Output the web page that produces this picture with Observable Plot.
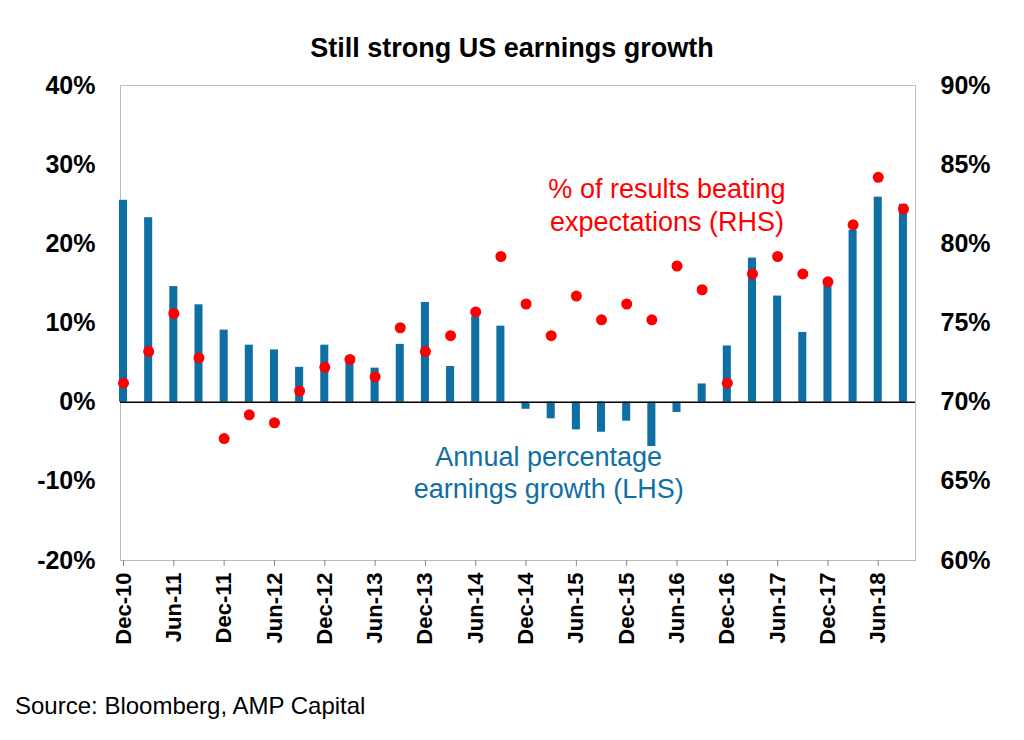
<!DOCTYPE html>
<html><head><meta charset="utf-8">
<script src="https://cdn.jsdelivr.net/npm/d3@7"></script>
<script src="https://cdn.jsdelivr.net/npm/@observablehq/plot@0.6"></script>
<style>
body{margin:0;background:#fff;font-family:"Liberation Sans",Arial,sans-serif;}
#wrap{position:relative;width:1024px;height:740px;}
#title{position:absolute;top:33px;left:0;width:1024px;text-align:center;font-weight:bold;font-size:27px;}
#src{position:absolute;top:692px;left:15px;font-size:24px;}
</style></head><body>
<div id="wrap"><div id="title">Still strong US earnings growth</div><div id="chart"></div><div id="src">Source: Bloomberg, AMP Capital</div></div>
<script>
const quarters = ["Dec-10","Mar-11","Jun-11","Sep-11","Dec-11","Mar-12","Jun-12","Sep-12","Dec-12","Mar-13","Jun-13","Sep-13","Dec-13","Mar-14","Jun-14","Sep-14","Dec-14","Mar-15","Jun-15","Sep-15","Dec-15","Mar-16","Jun-16","Sep-16","Dec-16","Mar-17","Jun-17","Sep-17","Dec-17","Mar-18","Jun-18","Sep-18"];
const growth = [25.5,23.3,14.6,12.3,9.1,7.2,6.6,4.4,7.2,5.0,4.3,7.3,12.6,4.5,10.8,9.6,-0.9,-2.1,-3.5,-3.8,-2.4,-5.6,-1.3,2.3,7.1,18.2,13.4,8.8,14.8,21.7,25.9,25.0];
const beat = [71.2,73.2,75.6,72.8,67.7,69.2,68.7,70.7,72.2,72.7,71.6,74.7,73.2,74.2,75.7,79.2,76.2,74.2,76.7,75.2,76.2,75.2,78.6,77.1,71.2,78.1,79.2,78.1,77.6,81.2,84.2,82.2];
const leftTicks = [-20,-10,0,10,20,30,40];
const rightTicks = [60,65,70,75,80,85,90];
const toLeft = v => (v - 70) * 2;
const data = quarters.map((q,i)=>({i,q,g:growth[i],b:toLeft(beat[i])}));
const xTicks = d3.range(0, quarters.length, 2);
const blue = "#0e6fa3", red = "#ff0000";
const font = "Liberation Sans, Arial, sans-serif";
const chart = Plot.plot({
  width:1024, height:740, marginTop:85, marginBottom:180, marginLeft:120, marginRight:109,
  style:{fontFamily:font, background:"transparent"},
  x:{domain:[-0.12,31.48], axis:null, label:null},
  y:{domain:[-20,40], axis:null, label:null},
  marks:[
    Plot.frame({stroke:"#bbb"}),
    Plot.axisY(leftTicks,{anchor:"left", label:null, tickSize:0, tickPadding:25, tickFormat:d=>d+"%", fontSize:25, fontWeight:"bold", fill:"#000"}),
    Plot.axisY(leftTicks,{anchor:"right", label:null, tickSize:0, tickPadding:25, tickFormat:(d,k)=>rightTicks[k]+"%", textAnchor:"start", fontSize:25, fontWeight:"bold", fill:"#000"}),
    Plot.axisX(xTicks,{anchor:"bottom", label:null, tickSize:6, tickPadding:6, tickRotate:-90, tickFormat:d=>quarters[d], fontSize:22, fontWeight:"bold", fill:"#000", stroke:"#888"}),
    Plot.rectY(data,{x1:d=>d.i-0.16, x2:d=>d.i+0.16, y1:0, y2:"g", fill:blue}),
    Plot.ruleY([0],{stroke:"#000", strokeWidth:1.5}),
    Plot.dot(data,{x:"i", y:"b", r:5.5, fill:red}),
    Plot.text(["% of results beating\nexpectations (RHS)"],{x:21.6, y:25, text:d=>d, fill:red, fontSize:27, lineHeight:1.2}),
    Plot.text(["Annual percentage\nearnings growth (LHS)"],{x:16.9, y:-8.8, text:d=>d, fill:blue, fontSize:27, lineHeight:1.2})
  ]
});
document.getElementById("chart").appendChild(chart);
</script></body></html>
